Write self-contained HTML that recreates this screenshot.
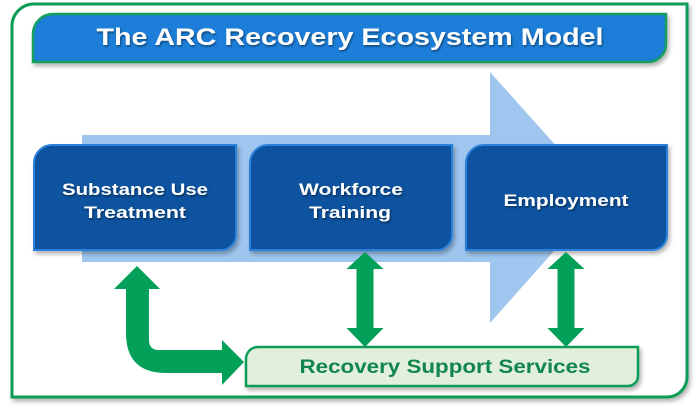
<!DOCTYPE html>
<html>
<head>
<meta charset="utf-8">
<style>
  html,body{margin:0;padding:0;background:#ffffff;}
  body{width:700px;height:408px;overflow:hidden;}
  svg{display:block;}
  text{font-family:"Liberation Sans",sans-serif;font-weight:bold;}
</style>
</head>
<body>
<svg width="700" height="408" viewBox="0 0 700 408" xmlns="http://www.w3.org/2000/svg">
  <defs>
    <filter id="sh" x="-10%" y="-10%" width="130%" height="140%">
      <feDropShadow dx="2" dy="3" stdDeviation="2" flood-color="#000" flood-opacity="0.3"/>
    </filter>
    <filter id="tsh" x="-5%" y="-20%" width="110%" height="160%">
      <feDropShadow dx="1" dy="1.5" stdDeviation="1" flood-color="#000" flood-opacity="0.45"/>
    </filter>
  </defs>

  <!-- outer frame -->
  <path d="M12,397 L12,26 A22,22 0 0 1 34,4 L687,4 L687,377 A20,20 0 0 1 667,397 Z"
        fill="#ffffff" stroke="#0f9d58" stroke-width="3" filter="url(#sh)"/>

  <!-- title bar -->
  <path d="M33,62 L33,34 A20,20 0 0 1 53,14 L666,14 L666,44 A18,18 0 0 1 648,62 Z"
        fill="#1f7ed8" stroke="#14a05c" stroke-width="2.5" filter="url(#sh)"/>
  <text x="350" y="45" text-anchor="middle" font-size="24" fill="#ffffff" textLength="507" lengthAdjust="spacingAndGlyphs" filter="url(#tsh)">The ARC Recovery Ecosystem Model</text>

  <!-- big light-blue arrow -->
  <path d="M82,135 L490,135 L490,72 L602,197 L490,323 L490,262 L82,262 Z" fill="#9fc6ee"/>

  <!-- boxes -->
  <path d="M34,250 L34,163 A18,18 0 0 1 52,145 L236,145 L236,235 A15,15 0 0 1 221,250 Z"
        fill="#0b52a0" stroke="#2a82dc" stroke-width="2" filter="url(#sh)"/>
  <path d="M250,250 L250,163 A18,18 0 0 1 268,145 L452,145 L452,235 A15,15 0 0 1 437,250 Z"
        fill="#0b52a0" stroke="#2a82dc" stroke-width="2" filter="url(#sh)"/>
  <path d="M466,250 L466,163 A18,18 0 0 1 484,145 L667,145 L667,235 A15,15 0 0 1 652,250 Z"
        fill="#0b52a0" stroke="#2a82dc" stroke-width="2" filter="url(#sh)"/>

  <g fill="#ffffff" font-size="17" text-anchor="middle" filter="url(#tsh)">
    <text x="135" y="195" textLength="146" lengthAdjust="spacingAndGlyphs">Substance Use</text>
    <text x="135" y="218" textLength="102" lengthAdjust="spacingAndGlyphs">Treatment</text>
    <text x="351" y="195" textLength="104" lengthAdjust="spacingAndGlyphs">Workforce</text>
    <text x="350" y="218" textLength="82" lengthAdjust="spacingAndGlyphs">Training</text>
    <text x="566" y="206" textLength="125" lengthAdjust="spacingAndGlyphs">Employment</text>
  </g>

  <!-- vertical double arrows -->
  <path d="M365,252 L383.5,269 L373.5,269 L373.5,328 L383.5,328 L365,347 L346.5,328 L356.5,328 L356.5,269 L346.5,269 Z" fill="#03a05a"/>
  <path d="M566,252 L584.5,269 L574.5,269 L574.5,328 L584.5,328 L566,347 L547.5,328 L557.5,328 L557.5,269 L547.5,269 Z" fill="#03a05a"/>

  <!-- L-shaped arrow -->
  <path d="M137,266 L160,289 L149,289 L149,340 Q149,350 159,350 L222,350 L222,340 L244,362 L222,385 L222,373 L166,373 Q126,373 126,333 L126,289 L114,289 Z" fill="#03a05a"/>

  <!-- recovery support services -->
  <path d="M246,386 L246,359 A12,12 0 0 1 258,347 L638,347 L638,376 A10,10 0 0 1 628,386 Z"
        fill="#e2efdd" stroke="#0f9d58" stroke-width="2.5" filter="url(#sh)"/>
  <text x="445" y="373" text-anchor="middle" font-size="19" fill="#11864a" textLength="291" lengthAdjust="spacingAndGlyphs">Recovery Support Services</text>
</svg>
</body>
</html>
